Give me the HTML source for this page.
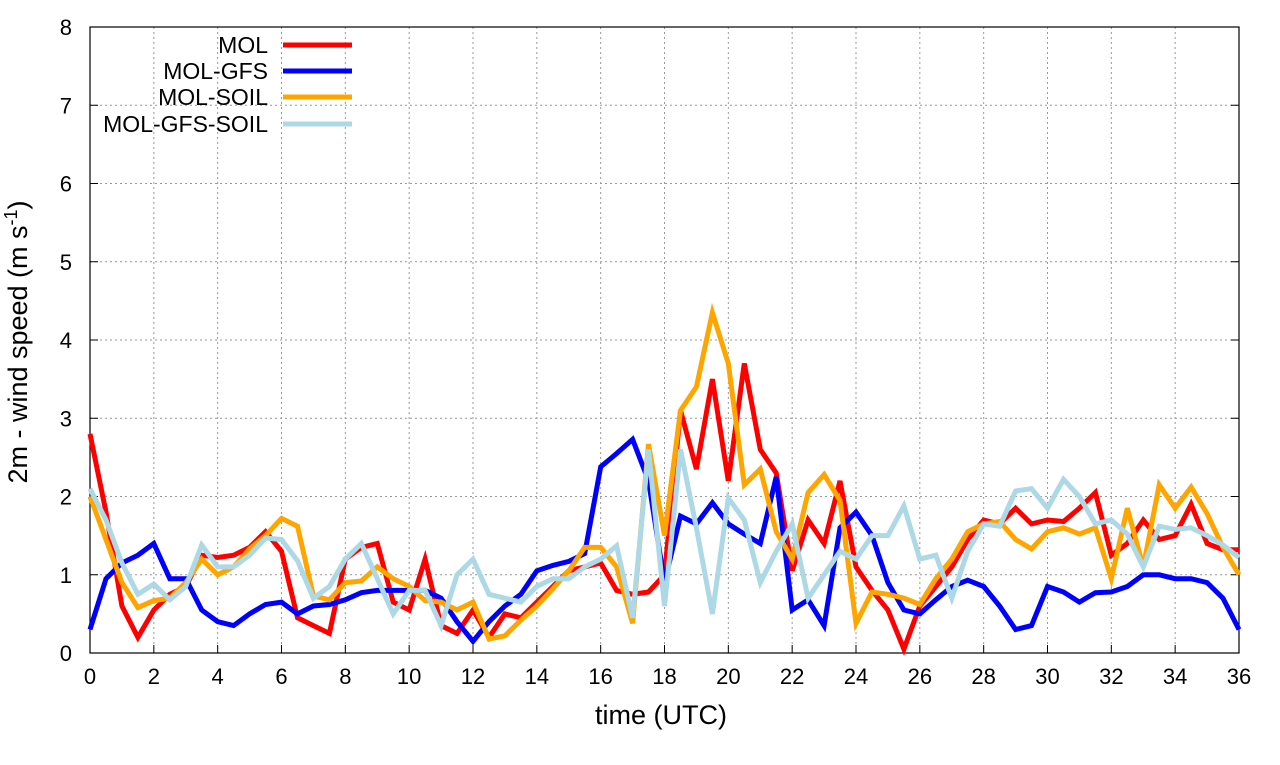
<!DOCTYPE html>
<html><head><meta charset="utf-8"><style>
body{margin:0;background:#fff;width:1280px;height:760px;overflow:hidden}
svg{font-family:"Liberation Sans",sans-serif}
</style></head><body>
<svg id="chart" width="1280" height="760" xmlns="http://www.w3.org/2000/svg"></svg>
<script>
const xTicks=[0,2,4,6,8,10,12,14,16,18,20,22,24,26,28,30,32,34,36];
const yTicks=[0,1,2,3,4,5,6,7,8];
const seriesNames=["MOL","MOL-GFS","MOL-SOIL","MOL-GFS-SOIL"];
const mol=[2.8,1.8,0.6,0.2,0.55,0.75,0.85,1.25,1.22,1.25,1.35,1.55,1.3,0.45,0.35,0.25,1.2,1.35,1.4,0.65,0.55,1.2,0.35,0.25,0.55,0.2,0.5,0.45,0.65,0.85,1.05,1.1,1.15,0.8,0.75,0.78,1.0,3.1,2.35,3.5,2.2,3.7,2.6,2.3,1.05,1.7,1.4,2.2,1.1,0.8,0.55,0.05,0.6,0.85,1.1,1.45,1.7,1.65,1.85,1.65,1.7,1.68,1.85,2.05,1.25,1.4,1.7,1.45,1.5,1.9,1.4,1.32,1.32];
const molGfs=[0.3,0.95,1.15,1.25,1.4,0.95,0.95,0.55,0.4,0.35,0.5,0.62,0.65,0.5,0.6,0.62,0.68,0.77,0.8,0.8,0.8,0.8,0.7,0.4,0.15,0.4,0.6,0.75,1.05,1.12,1.17,1.27,2.38,2.55,2.73,2.2,0.9,1.75,1.65,1.92,1.65,1.52,1.4,2.25,0.55,0.68,0.35,1.6,1.8,1.5,0.9,0.55,0.5,0.68,0.85,0.93,0.85,0.6,0.3,0.35,0.85,0.78,0.65,0.77,0.78,0.85,1.0,1.0,0.95,0.95,0.9,0.7,0.3];
const molSoil=[2.0,1.45,0.9,0.58,0.67,0.7,0.9,1.2,1.0,1.1,1.33,1.5,1.72,1.62,0.73,0.68,0.9,0.92,1.1,0.95,0.85,0.67,0.65,0.55,0.65,0.18,0.22,0.42,0.6,0.82,1.05,1.35,1.35,1.1,0.38,2.67,1.5,3.1,3.4,4.35,3.7,2.15,2.35,1.55,1.2,2.05,2.28,1.95,0.38,0.78,0.75,0.7,0.62,0.95,1.2,1.55,1.65,1.68,1.45,1.33,1.55,1.6,1.52,1.6,0.95,1.85,1.1,2.15,1.85,2.12,1.78,1.35,1.0];
const molGfsSoil=[2.1,1.7,1.15,0.75,0.88,0.68,0.85,1.38,1.1,1.1,1.25,1.47,1.45,1.18,0.7,0.85,1.2,1.4,0.95,0.5,0.8,0.8,0.35,1.0,1.2,0.75,0.7,0.65,0.85,0.95,0.95,1.1,1.2,1.37,0.45,2.6,0.6,2.6,1.6,0.5,1.98,1.7,0.9,1.3,1.65,0.7,1.0,1.3,1.2,1.5,1.5,1.88,1.2,1.25,0.7,1.3,1.65,1.62,2.07,2.1,1.85,2.22,2.0,1.65,1.7,1.52,1.1,1.62,1.58,1.6,1.5,1.38,1.22];
const timeStep=0.5;

const NS="http://www.w3.org/2000/svg";
const svg=document.getElementById('chart');
const L=90,R=1239,T=27,B=653;
const xs=v=>L+(v/36)*(R-L);
const ys=v=>B-(v/8)*(B-T);
function el(tag,attrs,parent){const e=document.createElementNS(NS,tag);for(const k in attrs)e.setAttribute(k,attrs[k]);(parent||svg).appendChild(e);return e;}

xTicks.forEach(t=>{
  if(t>0&&t<36){const g=el('line',{x1:xs(t),x2:xs(t),y1:T,y2:B,stroke:'#999','stroke-dasharray':'2,3','stroke-width':1});
  
  }
  const tk=el('line',{x1:xs(t),x2:xs(t),y1:B,y2:B-8,stroke:'#000'});
  
  
  const tx=el('text',{x:xs(t),y:B+31,'text-anchor':'middle','font-size':22});
  tx.textContent=t;
  
  
});
yTicks.forEach(t=>{
  if(t>0&&t<8){const g=el('line',{x1:L,x2:R,y1:ys(t),y2:ys(t),stroke:'#999','stroke-dasharray':'2,3','stroke-width':1});
  
  }
  const tk=el('line',{x1:L,x2:L+8,y1:ys(t),y2:ys(t),stroke:'#000'});
  
  
  const tk2=el('line',{x1:R,x2:R-8,y1:ys(t),y2:ys(t),stroke:'#000'});
  
  
  const tx=el('text',{x:L-18,y:ys(t)+8,'text-anchor':'end','font-size':22});
  tx.textContent=t;
  
  
});
const frame=el('rect',{x:L,y:T,width:R-L,height:B-T,fill:'none',stroke:'#000','stroke-width':1.2});



const colors=['#ff0000','#0000ff','#ffa500','#add8e6'];
const datasets=[mol,molGfs,molSoil,molGfsSoil];
const names=['series-mol','series-mol-gfs','series-mol-soil','series-mol-gfs-soil'];
datasets.forEach((d,i)=>{
  const pts=d.map((v,j)=>xs(j*timeStep).toFixed(1)+','+ys(v).toFixed(1)).join(' ');
  const p=el('polyline',{points:pts,fill:'none',stroke:colors[i],'stroke-width':5,'stroke-linejoin':'miter'});
  
  
});
const legY=[45,71,97,124];
seriesNames.forEach((n,i)=>{
  const t=el('text',{x:268,y:legY[i]+8,'text-anchor':'end','font-size':23});
  t.textContent=n;
  
  
  const l=el('line',{x1:283,x2:352,y1:legY[i],y2:legY[i],stroke:colors[i],'stroke-width':5});
  
  
});
const xt=el('text',{x:661,y:724,'text-anchor':'middle','font-size':27});
xt.textContent='time (UTC)';


const yt=el('text',{transform:'translate(27,342) rotate(-90)','text-anchor':'middle','font-size':27});
yt.setAttribute('xml:space','preserve');
yt.innerHTML='2m - wind speed  (m s<tspan dy="-10" font-size="18">-1</tspan><tspan dy="10">)</tspan>';


</script>
</body></html>
